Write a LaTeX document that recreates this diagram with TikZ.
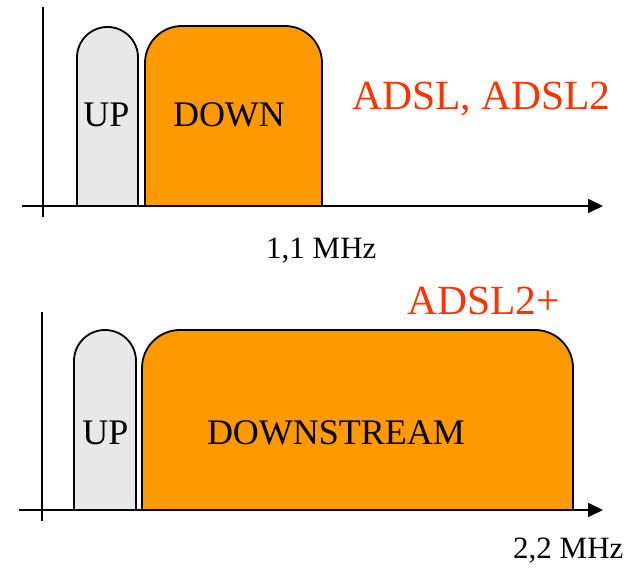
\documentclass[tikz,border=0pt]{standalone}
\usepackage{fontspec}
\setmainfont{Liberation Serif}
\usetikzlibrary{arrows.meta}
\definecolor{bandorange}{RGB}{255,153,0}
\definecolor{bandgrey}{RGB}{232,232,232}
\definecolor{adslred}{RGB}{255,51,0}

\begin{document}
\begin{tikzpicture}[x=1pt,y=-1pt,
    band/.style={draw=black,line width=1.8pt,line join=round},
    axis/.style={line width=1.8pt},
    lbl/.style={inner sep=0pt,anchor=base,font=\fontsize{36}{40}\selectfont},
    title/.style={inner sep=0pt,anchor=base west,text=adslred,
      font=\fontsize{41.5}{46}\selectfont},
    freq/.style={inner sep=0pt,anchor=base west,font=\fontsize{31}{36}\selectfont}
  ]
  \useasboundingbox (0,0) rectangle (633,569);

  % ADSL, ADSL2
  \coordinate (yA0) at (43,217);
  \coordinate (yA1) at (43,7);
  \coordinate (xA0) at (22,206);
  \coordinate (xA1) at (603,206);

  \filldraw[band,fill=bandgrey,rounded corners=30.5pt]
    (77,206) -- (77,27) -- (138,27) -- (138,206);
  \filldraw[band,fill=bandorange,rounded corners=37pt]
    (145,206) -- (145,26) -- (322,26) -- (322,206);

  \draw[axis] (yA0) -- (yA1);
  \draw[axis,-{Triangle[length=15pt,width=14pt]}] (xA0) -- (xA1);

  \node[lbl] (upA) at (106.5,127) {UP};
  \node[lbl] (downA) at (229,127) {DOWN};
  \node[title] (adslA) at (352,110) {ADSL, ADSL2};
  \node[freq] (fA) at (266,259) {1,1 MHz};

  % ADSL2+
  \coordinate (yB0) at (42,521);
  \coordinate (yB1) at (42,312);
  \coordinate (xB0) at (19,510);
  \coordinate (xB1) at (603,510);

  \filldraw[band,fill=bandgrey,rounded corners=31pt]
    (74,510) -- (74,330) -- (136,330) -- (136,510);
  \filldraw[band,fill=bandorange,rounded corners=38pt]
    (142,510) -- (142,330) -- (573,330) -- (573,510);

  \draw[axis] (yB0) -- (yB1);
  \draw[axis,-{Triangle[length=15pt,width=14pt]}] (xB0) -- (xB1);

  \node[lbl] (upB) at (105.5,445) {UP};
  \node[lbl] (downB) at (336,445) {DOWNSTREAM};
  \node[title] (adslB) at (407,315) {ADSL2+};
  \node[freq] (fB) at (513,559) {2,2 MHz};
\end{tikzpicture}
\end{document}
